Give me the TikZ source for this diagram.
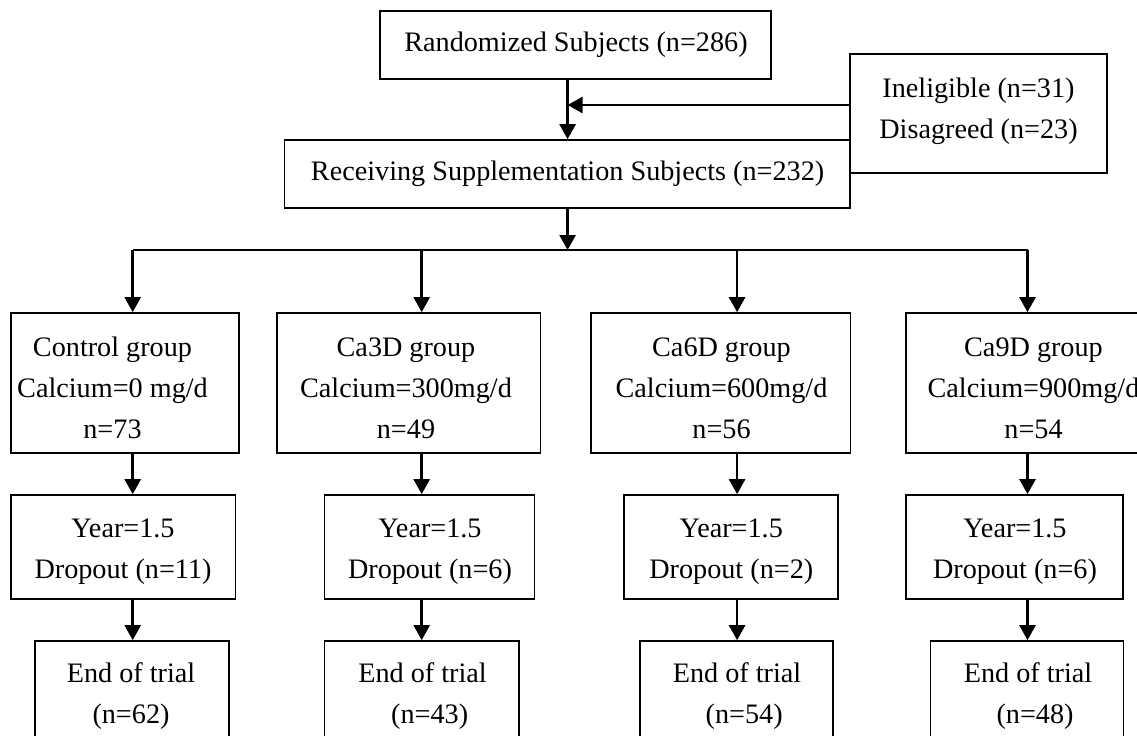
\documentclass[tikz,border=0pt]{standalone}
\usepackage{fontspec}
\setmainfont{Liberation Serif}
\usetikzlibrary{arrows.meta}
\newcommand\tstrut{\rule[-0.22em]{0pt}{0.94em}}
\begin{document}
\begin{tikzpicture}[x=0.5pt,y=-0.5pt,
  bx/.style 2 args={draw=black, line width=0.85pt, inner sep=0pt, minimum width={#1*0.5pt}, minimum height={#2*0.5pt}},
  txt/.style={inner sep=0pt, align=center, font=\fontsize{14.1pt}{20.5pt}\selectfont},
  arr/.style={line width=1.3pt, -{Triangle[length=7.5pt,width=8pt]}},
  bline/.style={line width=0.9pt}]
\useasboundingbox (0,0) rectangle (1137,735);
\clip (0,0) rectangle (1137,735);
% boxes
\node[bx={391}{68}] (rand) at (575.5,45) {};
\node[bx={565.6}{68}] (recv) at (567.2,174) {};
\node[bx={257}{119}] (inel) at (978.5,113.5) {};
\node[bx={227.9}{140}] (c1) at (124.85,383) {};
\node[bx={263.5}{140}] (c2) at (408.75,383) {};
\node[bx={259.6}{140}] (c3) at (720.8,383) {};
\node[bx={264}{140}] (c4) at (1038,383) {};
\node[bx={224.7}{104}] (y1) at (123.25,547) {};
\node[bx={209.8}{104}] (y2) at (429.5,547) {};
\node[bx={213.8}{104}] (y3) at (731.1,547) {};
\node[bx={217}{104}] (y4) at (1014.5,547) {};
\node[bx={193.7}{119}] (e1) at (132.15,700.5) {};
\node[bx={194.5}{119}] (e2) at (421.85,700.5) {};
\node[bx={193.5}{119}] (e3) at (736.55,700.5) {};
\node[bx={193}{119}] (e4) at (1027.05,700.5) {};
% texts
\node[txt] (trand) at (576,44.6) {\tstrut Randomized Subjects (n=286)};
\node[txt] (trecv) at (567.6,173) {\tstrut Receiving Supplementation Subjects (n=232)};
\node[txt] (tinel) at (978.5,111) {\tstrut Ineligible (n=31)\\\tstrut Disagreed (n=23)};
\node[txt] (tc1) at (112.5,390) {\tstrut Control group\\\tstrut Calcium=0 mg/d\\\tstrut n=73};
\node[txt] (tc2) at (406,390) {\tstrut Ca3D group\\\tstrut Calcium=300mg/d\\\tstrut n=49};
\node[txt] (tc3) at (721.5,390) {\tstrut Ca6D group\\\tstrut Calcium=600mg/d\\\tstrut n=56};
\node[txt] (tc4) at (1033.5,390) {\tstrut Ca9D group\\\tstrut Calcium=900mg/d\\\tstrut n=54};
\node[txt] (ty1) at (123,550.5) {\tstrut Year=1.5\\\tstrut Dropout (n=11)};
\node[txt] (ty2) at (430,550.5) {\tstrut Year=1.5\\\tstrut Dropout (n=6)};
\node[txt] (ty3) at (731.3,550.5) {\tstrut Year=1.5\\\tstrut Dropout (n=2)};
\node[txt] (ty4) at (1015,550.5) {\tstrut Year=1.5\\\tstrut Dropout (n=6)};
\node[txt] (te1) at (131,695.5) {\tstrut End of trial\\\tstrut (n=62)};
\node[txt] (te2) at (422.6,695.5) {\tstrut End of trial\\\tstrut\hspace{0.5em}(n=43)};
\node[txt] (te3) at (737.1,695.5) {\tstrut End of trial\\\tstrut\hspace{0.5em}(n=54)};
\node[txt] (te4) at (1028,695.5) {\tstrut End of trial\\\tstrut\hspace{0.5em}(n=48)};
% coordinates
\coordinate (mx) at (567.6,0);
\coordinate (join) at (567.6,105);
\coordinate (branch) at (567.6,250);
\coordinate (k1) at (132.7,250);
\coordinate (k2) at (421.7,250);
\coordinate (k3) at (737.1,250);
\coordinate (k4) at (1027.5,250);
% connectors
\draw[arr] (rand.south -| mx) -- (recv.north -| mx);
\draw[arr] (inel.west |- join) -- (join);
\draw[bline] (k1) -- (k4);
\draw[arr] (recv.south -| mx) -- (branch);
\foreach \i in {1,2,3,4}{
  \draw[arr] (k\i) -- (c\i.north -| k\i);
  \draw[arr] (c\i.south -| k\i) -- (y\i.north -| k\i);
  \draw[arr] (y\i.south -| k\i) -- (e\i.north -| k\i);
}
\end{tikzpicture}
\end{document}
